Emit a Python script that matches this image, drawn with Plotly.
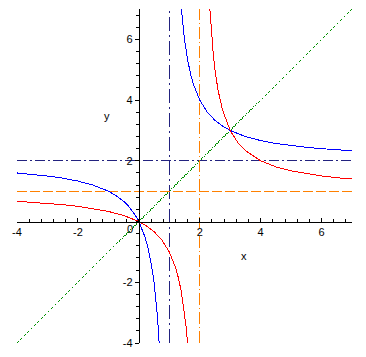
import plotly.graph_objects as go

# Axis ranges and tick labels
x_range = [-4, 7]
y_range = [-4, 7]
tick_vals = [-4, -2, 2, 4, 6]
tick_text = ["-4", "-2", "2", "4", "6"]

# Blue curve (vertical asymptote x=1, horizontal asymptote y=2)
blue_left_x = [-4, -3.5, -3, -2.5, -2, -1.5, -1.25, -1, -0.75, -0.5, -0.35, -0.2, -0.1, 0,
               0.1, 0.2, 0.3, 0.4, 0.45, 0.5, 0.55, 0.6, 0.63, 0.667]
blue_left_y = [1.6, 1.556, 1.5, 1.429, 1.333, 1.2, 1.111, 1.0, 0.857, 0.667, 0.519, 0.333, 0.182, 0,
               -0.222, -0.5, -0.857, -1.333, -1.636, -2.0, -2.444, -3.0, -3.405, -4.0]
blue_right_x = [1.4, 1.45, 1.5, 1.6, 1.7, 1.8, 2, 2.25, 2.5, 2.75, 3, 3.5, 4, 4.5, 5, 5.5, 6, 6.5, 7]
blue_right_y = [7.0, 6.444, 6.0, 5.333, 4.857, 4.5, 4.0, 3.6, 3.333, 3.143, 3.0, 2.8, 2.667,
                2.571, 2.5, 2.444, 2.4, 2.364, 2.333]

# Red curve (vertical asymptote x=2, horizontal asymptote y=1)
red_left_x = [-4, -3.5, -3, -2.5, -2, -1.5, -1, -0.5, 0, 0.25, 0.5, 0.75, 1, 1.2, 1.3, 1.4, 1.5, 1.55, 1.6]
red_left_y = [0.667, 0.636, 0.6, 0.556, 0.5, 0.429, 0.333, 0.2, 0, -0.143, -0.333, -0.6, -1.0,
              -1.5, -1.857, -2.333, -3.0, -3.444, -4.0]
red_right_x = [2.333, 2.4, 2.45, 2.5, 2.6, 2.75, 3, 3.25, 3.5, 4, 4.5, 5, 5.5, 6, 6.5, 7]
red_right_y = [7.0, 6.0, 5.444, 5.0, 4.333, 3.667, 3.0, 2.6, 2.333, 2.0, 1.8, 1.667, 1.571,
               1.5, 1.444, 1.4]

# Diagonal y = x
diag_x = [-4, 7]
diag_y = [-4, 7]

# Asymptote positions
navy_vline_x = 1
navy_hline_y = 2
orange_vline_x = 2
orange_hline_y = 1

NAVY = "#22227f"
ORANGE = "#ff8000"
DASHDOT = "10px,3px,2px,3px"

fig = go.Figure()

fig.add_trace(go.Scatter(x=diag_x, y=diag_y, mode="lines",
                         line=dict(color="#009000", width=1, dash="1px,1px")))
fig.add_trace(go.Scatter(x=x_range, y=[navy_hline_y] * 2, mode="lines",
                         line=dict(color=NAVY, width=1, dash=DASHDOT)))
fig.add_trace(go.Scatter(x=[navy_vline_x] * 2, y=y_range, mode="lines",
                         line=dict(color=NAVY, width=1, dash="14px,4px,2px,4px")))
fig.add_trace(go.Scatter(x=x_range, y=[orange_hline_y] * 2, mode="lines",
                         line=dict(color=ORANGE, width=1, dash="10px,3px")))
fig.add_trace(go.Scatter(x=[orange_vline_x] * 2, y=y_range, mode="lines",
                         line=dict(color=ORANGE, width=1, dash="12px,3px,1px,3px")))

for xs, ys, col in [(blue_left_x, blue_left_y, "#0000ff"),
                    (blue_right_x, blue_right_y, "#0000ff"),
                    (red_left_x, red_left_y, "#ff0000"),
                    (red_right_x, red_right_y, "#ff0000")]:
    fig.add_trace(go.Scatter(x=xs, y=ys, mode="lines", line=dict(color=col, width=1)))

font = dict(family="Liberation Sans, Arial, sans-serif", size=11, color="black")
y0_frac = (0 - y_range[0]) / (y_range[1] - y_range[0])
x0_frac = (0 - x_range[0]) / (x_range[1] - x_range[0])

fig.update_layout(
    width=366, height=357,
    margin=dict(l=17, r=14, t=9, b=14),
    paper_bgcolor="white", plot_bgcolor="white",
    showlegend=False,
    font=font,
    xaxis=dict(range=x_range, showgrid=False, zeroline=False, showline=True,
               linecolor="black", linewidth=1, anchor="free", position=y0_frac,
               ticks="inside", ticklen=4, tickcolor="black", tickwidth=1,
               tickvals=tick_vals, ticktext=tick_text, tickfont=font,
               minor=dict(ticks="inside", ticklen=3, dtick=0.4, tick0=0, tickcolor="black"),
               fixedrange=True),
    yaxis=dict(range=y_range, showgrid=False, zeroline=False, showline=True,
               linecolor="black", linewidth=1, anchor="free", position=x0_frac,
               ticks="outside", ticklen=4, tickcolor="black", tickwidth=1,
               tickvals=tick_vals, ticktext=tick_text, tickfont=font,
               minor=dict(ticks="outside", ticklen=3, dtick=0.4, tick0=0, tickcolor="black"),
               fixedrange=True),
    annotations=[
        dict(x=3.44, y=-1.13, text="x", showarrow=False, font=font),
        dict(x=-1.03, y=3.47, text="y", showarrow=False, font=font),
        dict(x=-0.3, y=-0.25, text="0", showarrow=False, font=font),
    ],
)

fig.write_html(
    "out.html", config={"displayModeBar": False},
    post_script=("document.body.style.margin='0px';"
                 "document.querySelectorAll('.js-line, .xlines-above, .ylines-above, .xtick, .ytick, "
                 ".xminor, .yminor').forEach(function(p){p.style.shapeRendering='crispEdges';});"),
)
